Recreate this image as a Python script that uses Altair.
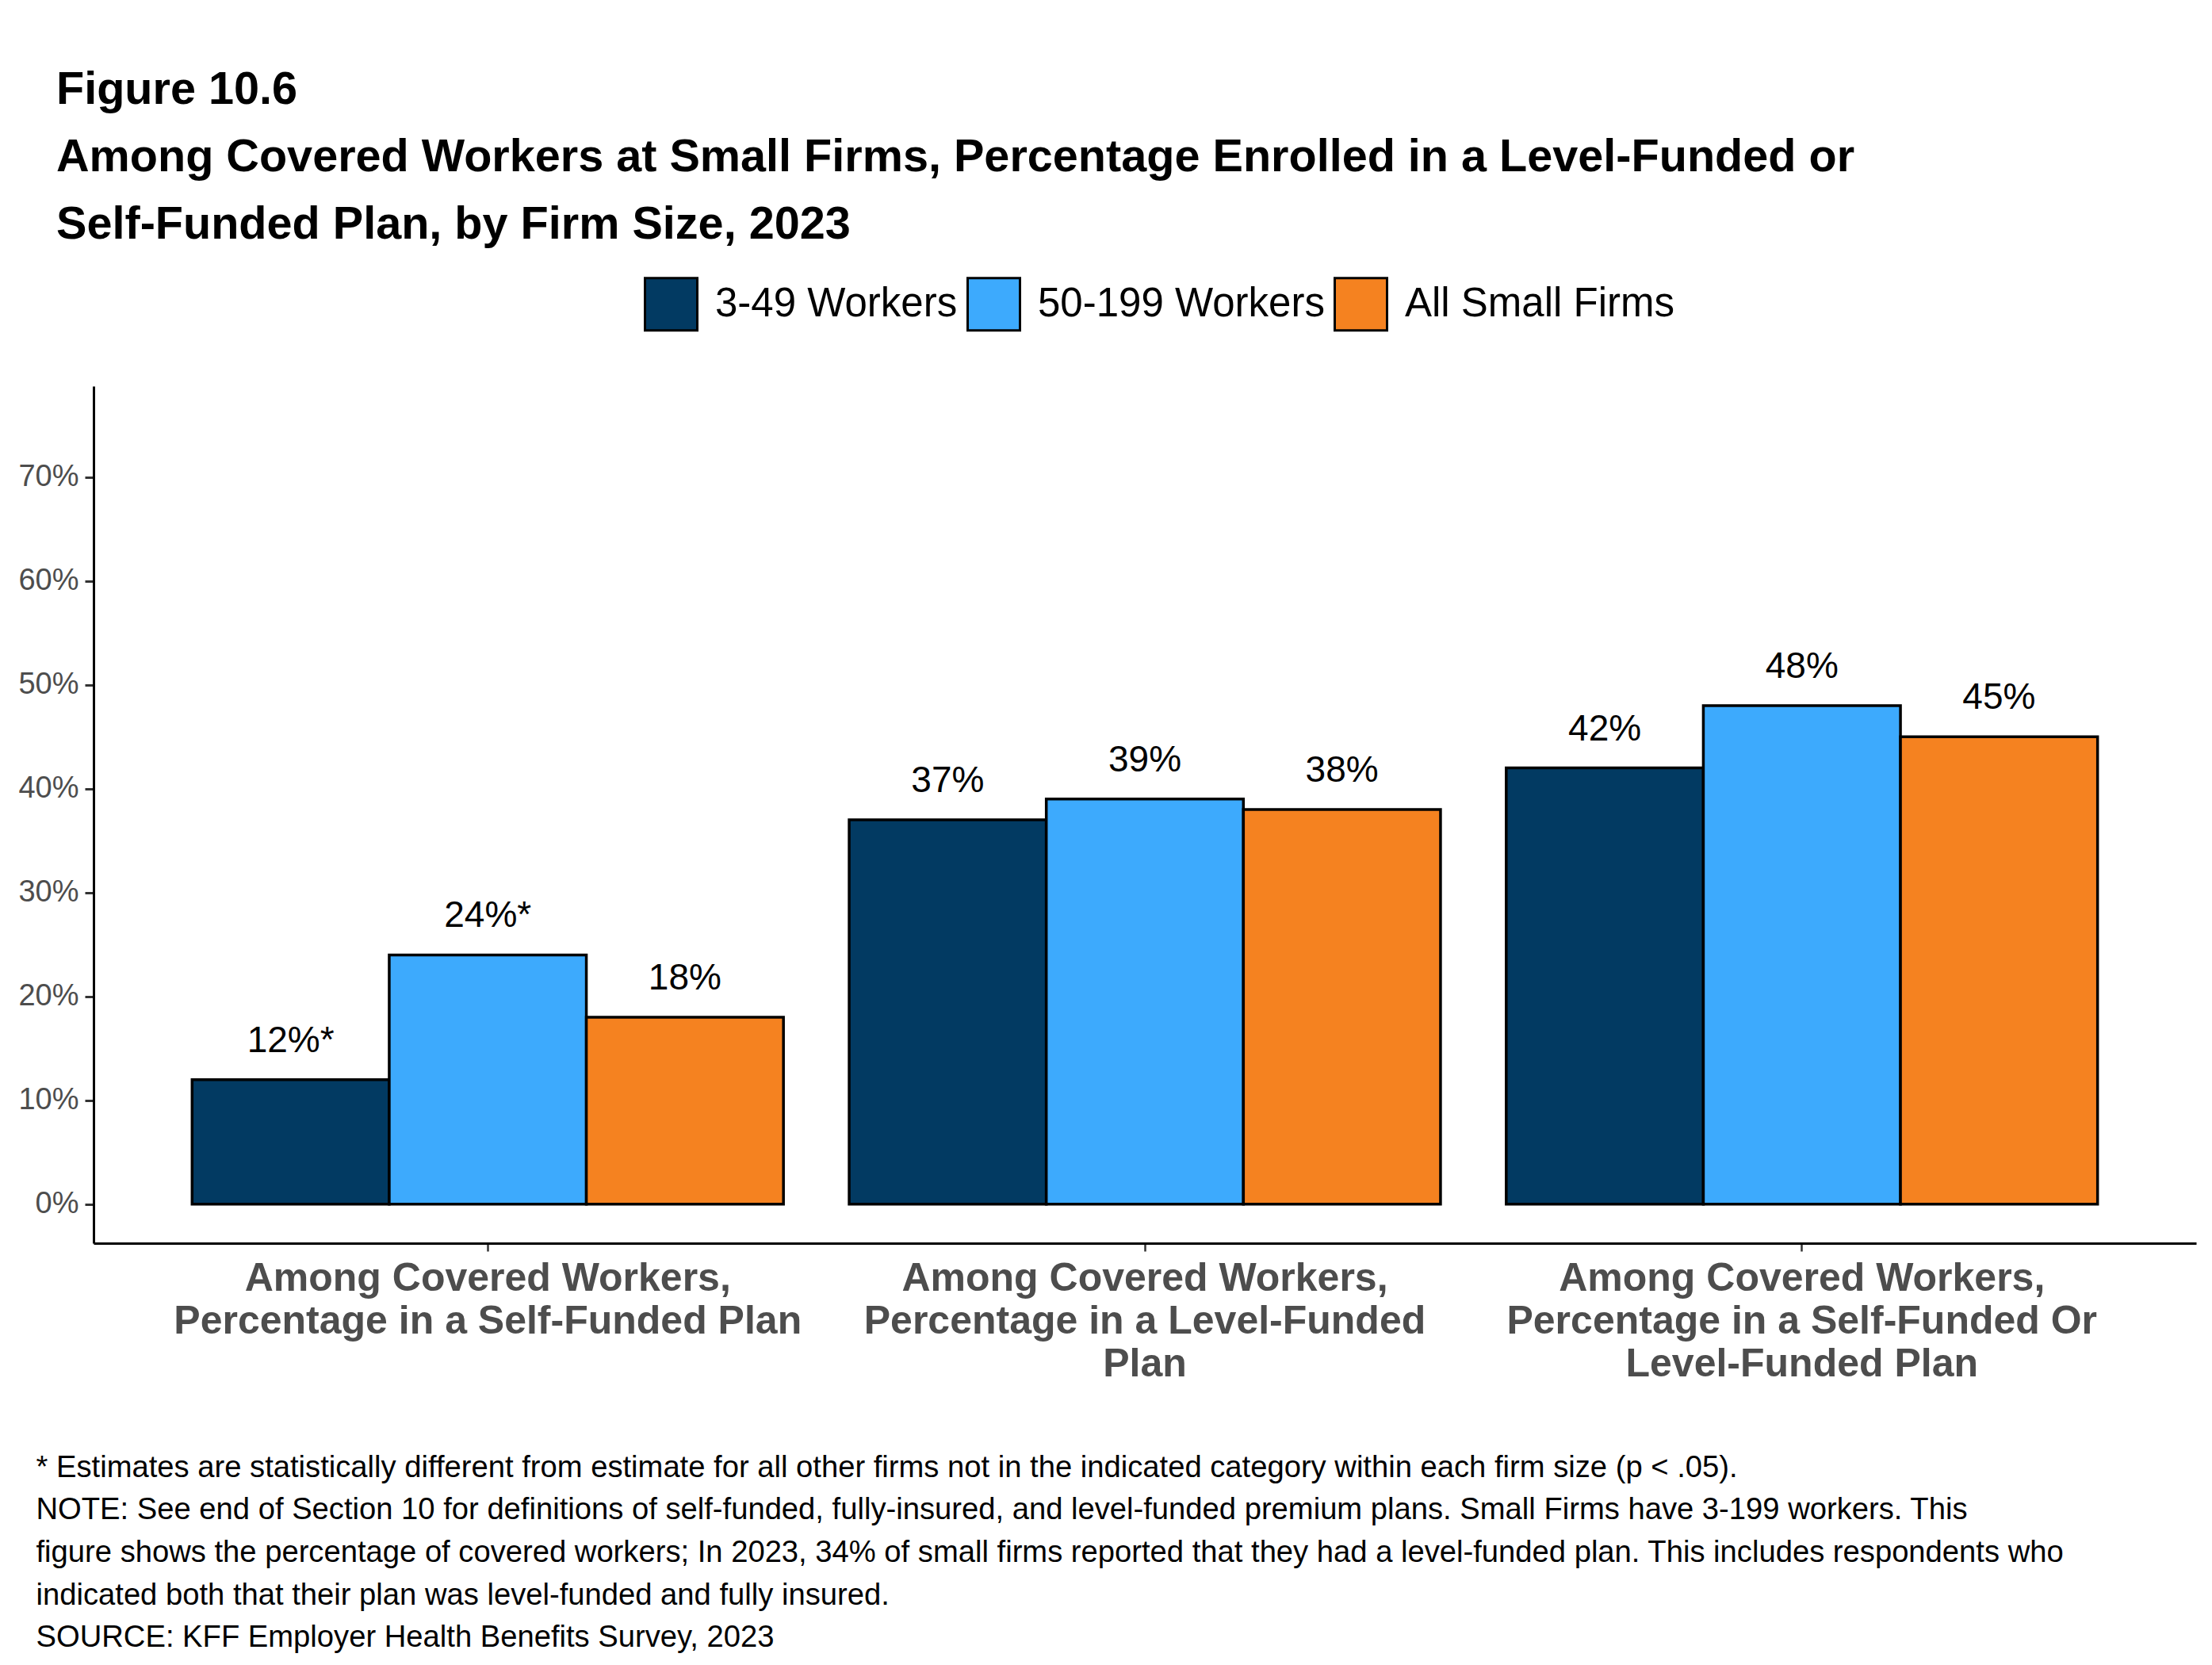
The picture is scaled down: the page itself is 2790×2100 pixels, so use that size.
import altair as alt
import pandas as pd

categories = [
    "Among Covered Workers,\nPercentage in a Self-Funded Plan",
    "Among Covered Workers,\nPercentage in a Level-Funded\nPlan",
    "Among Covered Workers,\nPercentage in a Self-Funded Or\nLevel-Funded Plan",
]
series = ["3-49 Workers", "50-199 Workers", "All Small Firms"]
colors = ["#023A62", "#3DAAFD", "#F58220"]

vals_3_49 = [0.12, 0.37, 0.42]
vals_50_199 = [0.24, 0.39, 0.48]
vals_all = [0.18, 0.38, 0.45]
labels_3_49 = ["12%*", "37%", "42%"]
labels_50_199 = ["24%*", "39%", "48%"]
labels_all = ["18%", "38%", "45%"]

y_ticks = [0, 0.1, 0.2, 0.3, 0.4, 0.5, 0.6, 0.7]

title_lines = [
    "Figure 10.6",
    "Among Covered Workers at Small Firms, Percentage Enrolled in a Level-Funded or",
    "Self-Funded Plan, by Firm Size, 2023",
]
footnote_lines = [
    "* Estimates are statistically different from estimate for all other firms not in the indicated category within each firm size (p < .05).",
    "NOTE: See end of Section 10 for definitions of self-funded, fully-insured, and level-funded premium plans. Small Firms have 3-199 workers. This",
    "figure shows the percentage of covered workers; In 2023, 34% of small firms reported that they had a level-funded plan. This includes respondents who",
    "indicated both that their plan was level-funded and fully insured.",
    "SOURCE: KFF Employer Health Benefits Survey, 2023",
]

rows = []
for s, vals, labs in [
    (series[0], vals_3_49, labels_3_49),
    (series[1], vals_50_199, labels_50_199),
    (series[2], vals_all, labels_all),
]:
    for c, v, l in zip(categories, vals, labs):
        rows.append({"category": c, "series": s, "value": v, "label": l})
df = pd.DataFrame(rows)

FONT = "Liberation Sans"

x_enc = alt.X(
    "category:N",
    sort=categories,
    scale=alt.Scale(paddingInner=0.1, paddingOuter=0.15),
    axis=alt.Axis(
        title=footnote_lines,
        titleX=-73,
        titleY=294,
        titleAlign="left",
        titleAnchor="start",
        titleBaseline="alphabetic",
        titleFontSize=38.2,
        titleFontWeight="normal",
        titleLineHeight=53.7,
        titleColor="#000000",
        titleFont=FONT,
        labelAngle=0,
        labelFont=FONT,
        labelFontSize=50,
        labelFontWeight="bold",
        labelColor="#4d4d4d",
        labelLineHeight=54,
        labelPadding=9,
        labelLimit=1200,
        labelOverlap=False,
        labelExpr="split(datum.label, '\\n')",
        tickSize=10,
        tickWidth=2.5,
        tickColor="#333333",
        domainColor="#000000",
        domainWidth=3,
        grid=False,
    ),
)
xoff = alt.XOffset("series:N", sort=series, scale=alt.Scale(paddingInner=0, paddingOuter=0))
y_scale = alt.Scale(domain=[-0.0375, 0.7875], nice=False, zero=False)

bars = alt.Chart(df).mark_bar(stroke="#000000", strokeWidth=3.5).encode(
    x=x_enc,
    xOffset=xoff,
    y=alt.Y(
        "value:Q",
        scale=y_scale,
        axis=alt.Axis(
            title=None,
            values=y_ticks,
            format=".0%",
            labelFont=FONT,
            labelFontSize=38,
            labelColor="#4d4d4d",
            labelPadding=8,
            tickSize=11,
            tickWidth=3,
            tickColor="#333333",
            domainColor="#000000",
            domainWidth=3,
            grid=False,
        ),
    ),
    y2=alt.datum(0),
    color=alt.Color(
        "series:N",
        sort=series,
        scale=alt.Scale(domain=series, range=colors),
        legend=alt.Legend(
            title=None,
            orient="none",
            legendX=694,
            legendY=-138,
            direction="horizontal",
            symbolType="square",
            symbolSize=4356,
            symbolStrokeColor="#000000",
            symbolStrokeWidth=3,
            symbolOpacity=1,
            labelFont=FONT,
            labelFontSize=51,
            labelColor="#000000",
            labelOffset=21,
            labelLimit=1000,
            columnPadding=6,
            padding=0,
        ),
    ),
)

texts = alt.Chart(df).mark_text(
    baseline="alphabetic", dy=-35, fontSize=46, font=FONT, color="#000000"
).encode(
    x=alt.X("category:N", sort=categories),
    xOffset=alt.XOffset("series:N", sort=series),
    y=alt.Y("value:Q", scale=y_scale),
    text="label:N",
)

chart = (
    alt.layer(bars, texts)
    .properties(
        width=2652,
        height=1081,
        background="#ffffff",
        autosize=alt.AutoSizeParams(type="none"),
        padding={"left": 110, "top": 479, "right": 12, "bottom": 524},
        title=alt.TitleParams(
            text=title_lines,
            anchor="start",
            frame="group",
            font=FONT,
            fontSize=57.6,
            fontWeight="bold",
            lineHeight=85,
            color="#000000",
            dx=-47,
            dy=-32,
        ),
    )
    .configure_view(stroke="transparent", strokeWidth=0)
)

chart.save("out.html", embed_options={"renderer": "svg", "actions": False})
